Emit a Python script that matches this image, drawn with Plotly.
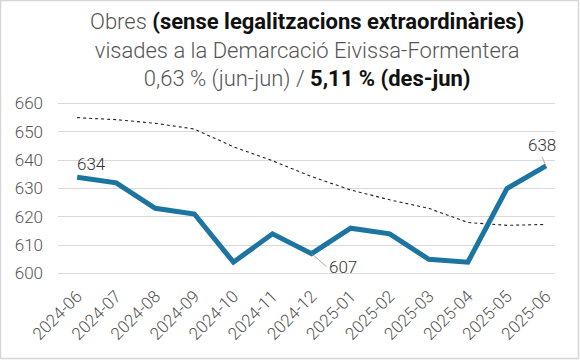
import plotly.graph_objects as go

months = ["2024-06", "2024-07", "2024-08", "2024-09", "2024-10", "2024-11", "2024-12",
          "2025-01", "2025-02", "2025-03", "2025-04", "2025-05", "2025-06"]
obres = [634, 632, 623, 621, 604, 614, 607, 616, 614, 605, 604, 630, 638]
tendencia = [655, 654.3, 653, 651, 644.7, 639.8, 634.2, 629.5, 626, 623, 618, 617, 617.3]
y_ticks = [600, 610, 620, 630, 640, 650, 660]

W, H = 580, 360
L, R, T, B = 58, 25, 95, 78

fig = go.Figure()
fig.add_trace(go.Scatter(x=months, y=tendencia, mode="lines",
                         line=dict(color="#222222", width=1.1, dash="3px,3px"),
                         hoverinfo="skip"))
fig.add_trace(go.Scatter(x=months, y=obres, mode="lines",
                         line=dict(color="#1b75a0", width=5)))

font_main = "Roboto"
lab_font = dict(size=17, color="#333", family=font_main, weight=300)
fig.add_annotation(x=months[0], y=obres[0], text=str(obres[0]), showarrow=False,
                   xanchor="left", yanchor="middle", yshift=13, xshift=-2, font=lab_font)
fig.add_annotation(x=months[6], y=obres[6], text=str(obres[6]), showarrow=True,
                   arrowhead=0, arrowwidth=0.8, arrowcolor="#999", ax=15, ay=13,
                   xanchor="left", yanchor="middle", font=lab_font)
fig.add_annotation(x=months[12], y=obres[12], text=str(obres[12]), showarrow=True,
                   arrowhead=0, arrowwidth=0.8, arrowcolor="#999", ax=-4, ay=-9,
                   xanchor="center", yanchor="bottom", font=lab_font)

title = ("<span style='color:#555'>Obres</span> <b style='color:#111'>(sense legalitzacions extraordinàries)</b><br>"
         "<span style='color:#555'>visades a la Demarcació Eivissa-Formentera</span><br>"
         "<span style='color:#555'>0,63 % (jun-jun) /</span> <b style='color:#111'>5,11 % (des-jun)</b>")
fig.add_annotation(xref="paper", yref="paper", x=0.5, y=1, yshift=T - 7,
                   text=title, showarrow=False, xanchor="center", yanchor="top",
                   font=dict(size=22, color="#555", family=font_main, weight=300))

# border
fig.add_shape(type="rect", xref="paper", yref="paper",
              x0=-(L - 0.5) / (W - L - R), x1=1 + (R - 1.5) / (W - L - R),
              y0=-(B - 1.5) / (H - T - B), y1=1 + (T - 0.5) / (H - T - B),
              line=dict(color="#d6d6d6", width=1.5), layer="below")

fig.update_layout(
    width=W, height=H, showlegend=False,
    margin=dict(l=L, r=R, t=T, b=B, autoexpand=False),
    paper_bgcolor="white", plot_bgcolor="white",
    font=dict(family=font_main, color="#555"),
    xaxis=dict(type="category", range=[-0.49, 12.23], tickangle=-45, showgrid=False,
               automargin=False, showline=False, ticks="",
               tickfont=dict(size=17, color="#555", weight=300)),
    yaxis=dict(range=[597, 663], tickvals=y_ticks, showgrid=True, gridcolor="#d9d9d9",
               gridwidth=1, zeroline=False, showline=False, ticks="", ticklabelstandoff=14,
               automargin=False, tickfont=dict(size=17, color="#555", weight=300)),
)
fig.write_html("out.html", config={"displayModeBar": False},
               post_script="document.body.style.margin='0px';")
